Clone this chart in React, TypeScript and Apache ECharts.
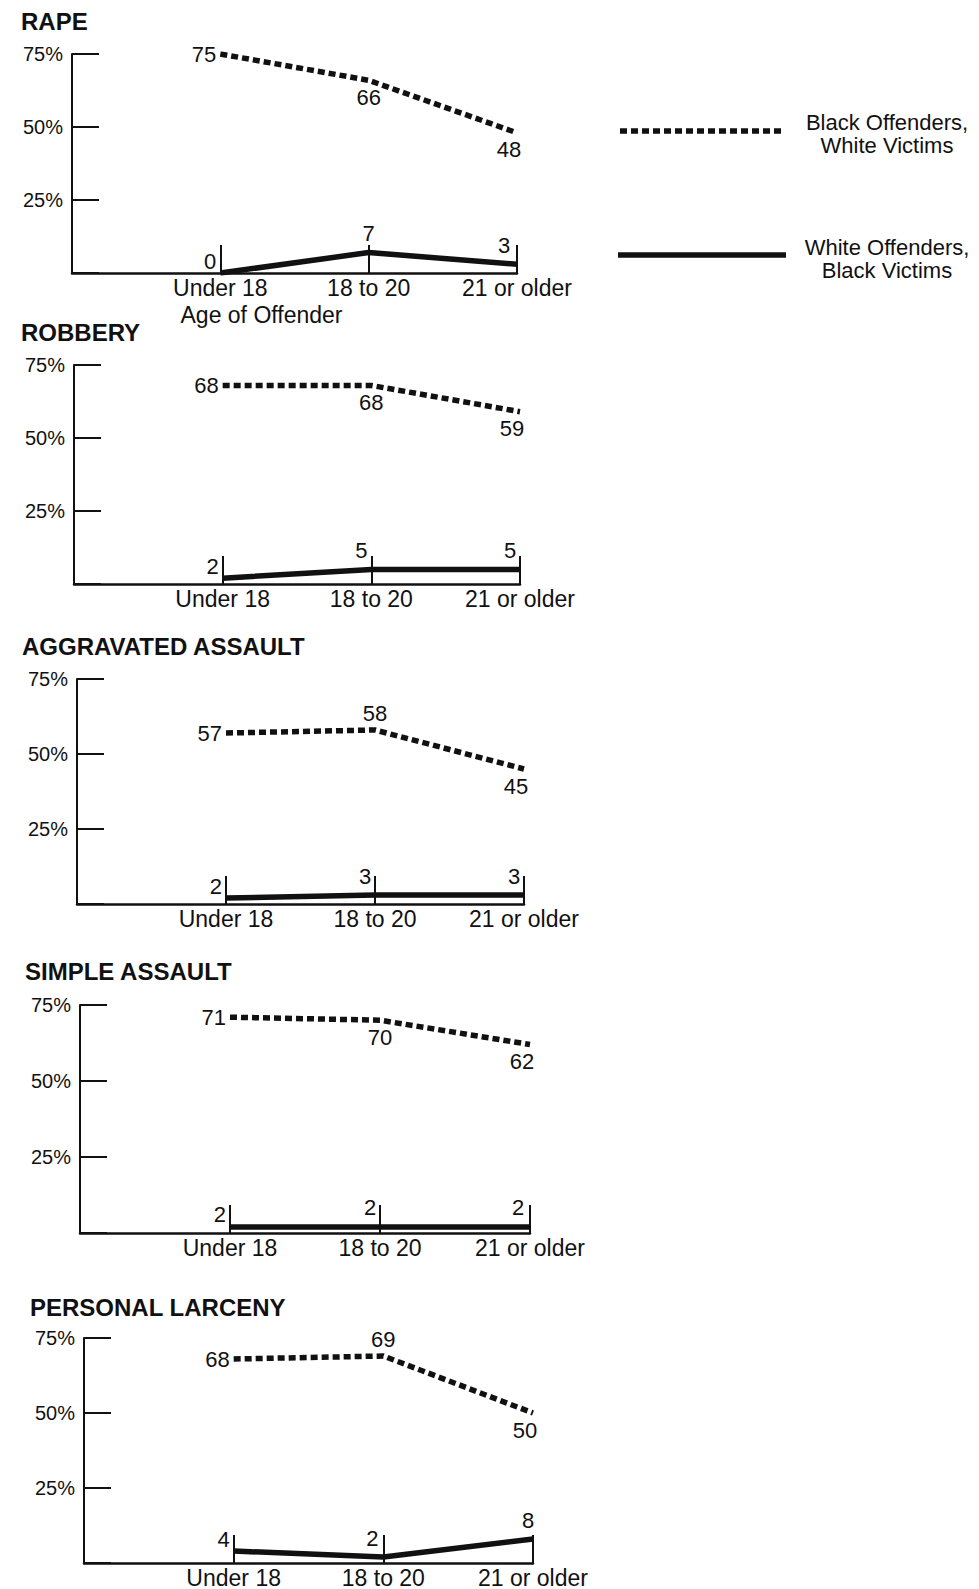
import React, { useEffect, useRef } from "react";
import * as echarts from "echarts";

// ---------- data ----------
const panelTitles = ["RAPE", "ROBBERY", "AGGRAVATED ASSAULT", "SIMPLE ASSAULT", "PERSONAL LARCENY"];
const ageGroups = ["Under 18", "18 to 20", "21 or older"];
const xAxisTitle = "Age of Offender";
const seriesNames = ["Black Offenders,\nWhite Victims", "White Offenders,\nBlack Victims"];
const yTickValues = [0, 25, 50, 75];

const rapeBlackOffWhiteVic = [75, 66, 48];
const rapeWhiteOffBlackVic = [0, 7, 3];
const robberyBlackOffWhiteVic = [68, 68, 59];
const robberyWhiteOffBlackVic = [2, 5, 5];
const aggAssaultBlackOffWhiteVic = [57, 58, 45];
const aggAssaultWhiteOffBlackVic = [2, 3, 3];
const simpleAssaultBlackOffWhiteVic = [71, 70, 62];
const simpleAssaultWhiteOffBlackVic = [2, 2, 2];
const larcenyBlackOffWhiteVic = [68, 69, 50];
const larcenyWhiteOffBlackVic = [4, 2, 8];

const blackOffSeries = [rapeBlackOffWhiteVic, robberyBlackOffWhiteVic, aggAssaultBlackOffWhiteVic, simpleAssaultBlackOffWhiteVic, larcenyBlackOffWhiteVic];
const whiteOffSeries = [rapeWhiteOffBlackVic, robberyWhiteOffBlackVic, aggAssaultWhiteOffBlackVic, simpleAssaultWhiteOffBlackVic, larcenyWhiteOffBlackVic];

// ---------- layout / style ----------
const FONT = "'Liberation Sans', Arial, Helvetica, sans-serif";
const INK = "#111";

const panelBoxes = [
  { left: 72, right: 517, top: 54, bottom: 273, titleX: 21, titleY: 9 },
  { left: 74, right: 520, top: 365, bottom: 584, titleX: 21, titleY: 320 },
  { left: 77, right: 524, top: 679, bottom: 904, titleX: 22, titleY: 634 },
  { left: 80, right: 530, top: 1005, bottom: 1233, titleX: 25, titleY: 959 },
  { left: 84, right: 533, top: 1338, bottom: 1563, titleX: 30, titleY: 1295 },
];

// label placement for the dotted series (per point)
const blackLabelPos = [
  ["left", "bottom", "bottom"],
  ["left", "bottom", "bottom"],
  ["left", "top", "bottom"],
  ["left", "bottom", "bottom"],
  ["left", "top", "bottom"],
];
// horizontal nudge for solid-series labels at middle / last point
const whiteLabelDx = [
  [0, -13],
  [-10, -10],
  [-10, -10],
  [-10, -12],
  [-11, -5],
];

const W = 979;
const H = 1589;

function buildOption() {
  const grids: any[] = [];
  const xAxes: any[] = [];
  const yAxes: any[] = [];
  const series: any[] = [];
  const titles: any[] = [];

  panelBoxes.forEach((b, i) => {
    grids.push({ left: b.left, top: b.top, width: b.right - b.left, height: b.bottom - b.top, containLabel: false });
    titles.push({
      text: panelTitles[i],
      left: b.titleX,
      top: b.titleY,
      padding: 0,
      textStyle: { fontFamily: FONT, fontWeight: "bold", fontSize: 24, color: INK },
    });
    xAxes.push({
      type: "category",
      gridIndex: i,
      data: ["", ...ageGroups],
      boundaryGap: false,
      name: i === 0 ? xAxisTitle : "",
      nameLocation: "middle",
      nameGap: 30,
      nameTextStyle: { fontFamily: FONT, fontSize: 23, color: INK, padding: [0, 66, 0, 0] },
      axisLine: { lineStyle: { color: INK, width: 2.5 } },
      axisTick: { inside: true, length: 28, interval: (idx: number) => idx > 0, lineStyle: { color: INK, width: 2 } },
      axisLabel: { interval: (idx: number) => idx > 0, fontFamily: FONT, fontSize: 23, color: INK, margin: 3 },
      splitLine: { show: false },
    });
    yAxes.push({
      type: "value",
      gridIndex: i,
      min: yTickValues[0],
      max: yTickValues[yTickValues.length - 1],
      interval: 25,
      axisLine: { show: true, lineStyle: { color: INK, width: 2 } },
      axisTick: { show: true, inside: true, length: 27, lineStyle: { color: INK, width: 2 } },
      axisLabel: {
        fontFamily: FONT,
        fontSize: 20,
        color: INK,
        margin: 9,
        formatter: (v: number) => (v === 0 ? "" : v + "%"),
      },
      splitLine: { show: false },
    });

    const bw = blackOffSeries[i];
    const wb = whiteOffSeries[i];

    series.push({
      type: "line",
      name: seriesNames[0],
      xAxisIndex: i,
      yAxisIndex: i,
      symbol: "circle",
      symbolSize: 0,
      showSymbol: true,
      silent: true,
      lineStyle: { color: INK, width: 5.5, type: [7, 4], cap: "butt" },
      label: { show: true, fontFamily: FONT, fontSize: 22, color: INK },
      data: [
        null,
        ...bw.map((v, k) => ({
          value: v,
          label: {
            position: blackLabelPos[i][k],
            distance: blackLabelPos[i][k] === "left" ? 4 : 6,
            offset: k === 2 ? [-8, 0] : [0, 0],
          },
        })),
      ],
    });
    series.push({
      type: "line",
      name: seriesNames[1],
      xAxisIndex: i,
      yAxisIndex: i,
      symbol: "circle",
      symbolSize: 0,
      showSymbol: true,
      silent: true,
      lineStyle: { color: INK, width: 5.5, type: "solid" },
      label: { show: true, fontFamily: FONT, fontSize: 22, color: INK },
      data: [
        null,
        ...wb.map((v, k) => ({
          value: v,
          label:
            k === 0
              ? { position: "left", distance: 4, offset: [0, -12] }
              : { position: "top", distance: 5, offset: [whiteLabelDx[i][k - 1], -3] },
        })),
      ],
    });
  });

  const legendText = (text: string, y: number) => ({
    type: "text",
    x: 887,
    y,
    style: {
      text,
      fontFamily: FONT,
      fontSize: 22,
      lineHeight: 23,
      fill: INK,
      align: "center",
      verticalAlign: "middle",
    },
    silent: true,
  });

  const legendGraphic: any[] = [
    {
      type: "line",
      shape: { x1: 620, y1: 131, x2: 785, y2: 131 },
      style: { stroke: INK, lineWidth: 5.5, lineDash: [7, 4] },
      silent: true,
    },
    legendText(seriesNames[0], 134),
    {
      type: "line",
      shape: { x1: 618, y1: 255, x2: 786, y2: 255 },
      style: { stroke: INK, lineWidth: 5.5 },
      silent: true,
    },
    legendText(seriesNames[1], 259),
  ];

  return {
    animation: false,
    backgroundColor: "#ffffff",
    title: titles,
    grid: grids,
    xAxis: xAxes,
    yAxis: yAxes,
    series,
    graphic: legendGraphic,
  };
}

export default function App() {
  const ref = useRef<HTMLDivElement>(null);
  useEffect(() => {
    if (!ref.current) return;
    const chart = echarts.init(ref.current, undefined, { renderer: "svg", width: W, height: H });
    chart.setOption(buildOption() as any);
    return () => chart.dispose();
  }, []);
  return (
    <div
      ref={ref}
      style={{ position: "absolute", left: 0, top: 0, width: W, height: H, background: "#fff" }}
    />
  );
}
